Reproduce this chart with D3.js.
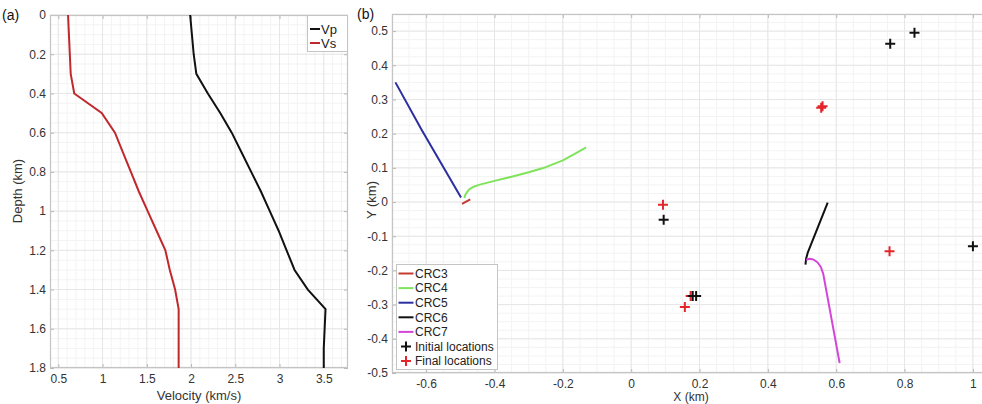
<!DOCTYPE html>
<html>
<head>
<meta charset="utf-8">
<script src="https://cdn.jsdelivr.net/npm/d3@7"></script>
<style>
  html, body { margin: 0; padding: 0; background: #fff; }
  svg { display: block; font-family: "Liberation Sans", Arial, Helvetica, sans-serif; }
  .tick text { fill: #333; font-size: 12px; }
  .tick line { stroke: #b8b8b8; }
</style>
</head>
<body>
<svg id="fig" width="982" height="404"></svg>
<script>
// ---- Panel (a): velocity profiles ----
const depth = [0, 0.1, 0.2, 0.3, 0.4, 0.5, 0.6, 0.7, 0.8, 0.9, 1.0, 1.1, 1.2, 1.3, 1.4, 1.5, 1.6, 1.7, 1.8];
const vp = [1.99, 2.01, 2.03, 2.06, 2.19, 2.33, 2.46, 2.57, 2.68, 2.79, 2.89, 2.99, 3.08, 3.17, 3.32, 3.52, 3.51, 3.50, 3.50];
const vs = [0.61, 0.62, 0.63, 0.64, 0.68, 0.99, 1.14, 1.23, 1.32, 1.41, 1.51, 1.61, 1.71, 1.76, 1.82, 1.86, 1.86, 1.86, 1.86];
const velTicks = [0.5, 1, 1.5, 2, 2.5, 3, 3.5];
const depthTicks = [0, 0.2, 0.4, 0.6, 0.8, 1, 1.2, 1.4, 1.6, 1.8];

// ---- Panel (b): station trajectories and locations ----
const crc3X = [-0.495, -0.471];
const crc3Y = [-0.005, 0.008];
const crc4X = [-0.488, -0.486, -0.481, -0.474, -0.463, -0.443, -0.40, -0.35, -0.30, -0.25, -0.20, -0.16, -0.132];
const crc4Y = [0.012, 0.020, 0.028, 0.037, 0.044, 0.051, 0.062, 0.074, 0.087, 0.102, 0.122, 0.144, 0.160];
const crc5X = [-0.690, -0.613, -0.498];
const crc5Y = [0.350, 0.211, 0.013];
const crc6X = [0.575, 0.517, 0.512, 0.510];
const crc6Y = [-0.002, -0.147, -0.165, -0.183];
const crc7X = [0.512, 0.522, 0.533, 0.545, 0.555, 0.562, 0.610];
const crc7Y = [-0.169, -0.166, -0.168, -0.176, -0.190, -0.210, -0.471];
const initX = [0.758, 0.829, 0.095, 1.000, 0.180, 0.190];
const initY = [0.463, 0.495, -0.052, -0.129, -0.275, -0.275];
const finalX = [0.556, 0.560, 0.093, 0.756, 0.174, 0.157];
const finalY = [0.276, 0.280, -0.008, -0.144, -0.275, -0.307];
const xTicksB = [-0.6, -0.4, -0.2, 0, 0.2, 0.4, 0.6, 0.8, 1];
const yTicksB = [-0.5, -0.4, -0.3, -0.2, -0.1, 0, 0.1, 0.2, 0.3, 0.4, 0.5];

const stations = [
  { name: "CRC3", xs: crc3X, ys: crc3Y, color: "#c63a30" },
  { name: "CRC4", xs: crc4X, ys: crc4Y, color: "#7fe35c" },
  { name: "CRC5", xs: crc5X, ys: crc5Y, color: "#2c2fa0" },
  { name: "CRC6", xs: crc6X, ys: crc6Y, color: "#111111" },
  { name: "CRC7", xs: crc7X, ys: crc7Y, color: "#d444d8" }
];

const svg = d3.select("#fig");
const fmt = d => String(+d.toFixed(2));
const gridMajor = "#e6e6e6", gridMinor = "#f3f3f3", boxColor = "#c4c4c4";

function range(a, b, step) {
  const out = [];
  const n = Math.round((b - a) / step);
  for (let i = 0; i <= n; i++) out.push(+(a + i * step).toFixed(4));
  return out;
}

// Draws box, grids and inward ticks for one set of axes
function frame(g, x, y, xt, yt, xMinor, yMinor, L, T, R, B, clipId) {
  g.append("defs").append("clipPath").attr("id", clipId)
    .append("rect").attr("x", L).attr("y", T).attr("width", R - L).attr("height", B - T);
  const grid = g.append("g");
  grid.selectAll(".vmin").data(xMinor).join("line")
    .attr("x1", d => x(d)).attr("x2", d => x(d)).attr("y1", T).attr("y2", B)
    .attr("stroke", gridMinor).attr("stroke-width", 1);
  grid.selectAll(".hmin").data(yMinor).join("line")
    .attr("y1", d => y(d)).attr("y2", d => y(d)).attr("x1", L).attr("x2", R)
    .attr("stroke", gridMinor).attr("stroke-width", 1);
  grid.selectAll(".vmaj").data(xt).join("line")
    .attr("x1", d => x(d)).attr("x2", d => x(d)).attr("y1", T).attr("y2", B)
    .attr("stroke", gridMajor).attr("stroke-width", 1);
  grid.selectAll(".hmaj").data(yt).join("line")
    .attr("y1", d => y(d)).attr("y2", d => y(d)).attr("x1", L).attr("x2", R)
    .attr("stroke", gridMajor).attr("stroke-width", 1);

  g.append("g").attr("transform", `translate(0,${B})`)
    .call(d3.axisBottom(x).tickValues(xt).tickFormat(fmt).tickSizeInner(-4).tickSizeOuter(0).tickPadding(6))
    .call(a => a.select(".domain").remove());
  g.append("g").attr("transform", `translate(0,${T})`)
    .call(d3.axisTop(x).tickValues(xt).tickFormat("").tickSizeInner(-4).tickSizeOuter(0))
    .call(a => a.select(".domain").remove());
  g.append("g").attr("transform", `translate(${L},0)`)
    .call(d3.axisLeft(y).tickValues(yt).tickFormat(fmt).tickSizeInner(-4).tickSizeOuter(0).tickPadding(4))
    .call(a => a.select(".domain").remove());
  if (R < 982) {
    g.append("g").attr("transform", `translate(${R},0)`)
      .call(d3.axisRight(y).tickValues(yt).tickFormat("").tickSizeInner(-4).tickSizeOuter(0))
      .call(a => a.select(".domain").remove());
  }
  g.append("rect").attr("x", L + 0.5).attr("y", T + 0.5)
    .attr("width", R - L - 1).attr("height", B - T - 1)
    .attr("fill", "none").attr("stroke", boxColor).attr("stroke-width", 1.2);
}

// ================= Panel (a) =================
{
  const L = 50, T = 15, R = 348, B = 368;
  const x = d3.scaleLinear().domain([0.406, 3.774]).range([L, R]);
  const y = d3.scaleLinear().domain([0, 1.8]).range([T, B]);
  const g = svg.append("g");
  frame(g, x, y, velTicks, depthTicks, range(0.5, 3.7, 0.1), range(0, 1.8, 0.05), L, T, R, B, "clipA");

  const line = d3.line().x(d => x(d[0])).y(d => y(d[1]));
  const plot = g.append("g").attr("clip-path", "url(#clipA)");
  plot.append("path").datum(depth.map((d, i) => [vp[i], d]))
    .attr("d", line).attr("fill", "none").attr("stroke", "#111").attr("stroke-width", 2);
  plot.append("path").datum(depth.map((d, i) => [vs[i], d]))
    .attr("d", line).attr("fill", "none").attr("stroke", "#c0282d").attr("stroke-width", 2);

  // legend
  const lg = g.append("g");
  lg.append("rect").attr("x", 307.5).attr("y", 15.5).attr("width", 40).attr("height", 36)
    .attr("fill", "#fff").attr("stroke", boxColor).attr("stroke-width", 1);
  [["Vp", "#111"], ["Vs", "#c0282d"]].forEach(([t, c], i) => {
    const yy = 29 + i * 14;
    lg.append("line").attr("x1", 310).attr("x2", 320).attr("y1", yy).attr("y2", yy)
      .attr("stroke", c).attr("stroke-width", 2);
    lg.append("text").attr("x", 321).attr("y", yy).attr("dy", "0.36em")
      .attr("font-size", 13).attr("fill", "#222").text(t);
  });

  svg.append("text").attr("x", 199).attr("y", 400).attr("text-anchor", "middle")
    .attr("font-size", 13).attr("fill", "#333").text("Velocity (km/s)");
  svg.append("text").attr("transform", "translate(22,191) rotate(-90)").attr("text-anchor", "middle")
    .attr("font-size", 13).attr("fill", "#333").text("Depth (km)");
  svg.append("text").attr("x", 2).attr("y", 20).attr("font-size", 14).attr("fill", "#111").text("(a)");
}

// ================= Panel (b) =================
{
  const L = 392, T = 14, R = 990, B = 373;
  const x = d3.scaleLinear().domain([-0.7, 1.05]).range([L, R]);
  const y = d3.scaleLinear().domain([-0.5, 0.55]).range([B, T]);
  const g = svg.append("g");
  frame(g, x, y, xTicksB, yTicksB, range(-0.7, 1.05, 0.05), range(-0.5, 0.55, 0.025), L, T, R, B, "clipB");

  const plot = g.append("g").attr("clip-path", "url(#clipB)");
  const line = d3.line().x(d => x(d[0])).y(d => y(d[1]));
  stations.forEach(s => {
    const pts = s.xs.map((v, i) => [v, s.ys[i]]);
    plot.append("path").datum(pts).attr("d", line)
      .attr("fill", "none").attr("stroke", s.color).attr("stroke-width", 2)
      .attr("stroke-linejoin", "round").attr("stroke-linecap", "butt");
  });

  const plus = (cx, cy, s) => `M${cx - s},${cy}H${cx + s}M${cx},${cy - s}V${cy + s}`;
  const finals = finalX.map((v, i) => [v, finalY[i]]);
  const inits = initX.map((v, i) => [v, initY[i]]);
  plot.selectAll(".fin").data(finals).join("path")
    .attr("d", d => plus(x(d[0]), y(d[1]), 5))
    .attr("stroke", "#e3262b").attr("stroke-width", 2).attr("fill", "none");
  plot.selectAll(".ini").data(inits).join("path")
    .attr("d", d => plus(x(d[0]), y(d[1]), 5))
    .attr("stroke", "#111").attr("stroke-width", 2).attr("fill", "none");

  // legend
  const lg = g.append("g");
  lg.append("rect").attr("x", 396.5).attr("y", 264.5).attr("width", 101).attr("height", 105)
    .attr("fill", "#fff").attr("stroke", boxColor).attr("stroke-width", 1);
  const entries = stations.map(s => ({ label: s.name, color: s.color, kind: "line" }))
    .concat([{ label: "Initial locations", color: "#111", kind: "plus" },
             { label: "Final locations", color: "#e3262b", kind: "plus" }]);
  entries.forEach((e, i) => {
    const yy = 273.5 + i * 14.6;
    if (e.kind === "line") {
      lg.append("line").attr("x1", 398.5).attr("x2", 413.5).attr("y1", yy).attr("y2", yy)
        .attr("stroke", e.color).attr("stroke-width", 2);
    } else {
      lg.append("path").attr("d", plus(406, yy, 5)).attr("stroke", e.color)
        .attr("stroke-width", 2).attr("fill", "none");
    }
    lg.append("text").attr("x", 415).attr("y", yy).attr("dy", "0.36em")
      .attr("font-size", 12).attr("fill", "#222").text(e.label);
  });

  svg.append("text").attr("x", 691).attr("y", 400.5).attr("text-anchor", "middle")
    .attr("font-size", 12).attr("fill", "#333").text("X (km)");
  svg.append("text").attr("transform", "translate(376,200) rotate(-90)").attr("text-anchor", "middle")
    .attr("font-size", 13).attr("fill", "#333").text("Y (km)");
  svg.append("text").attr("x", 357).attr("y", 19).attr("font-size", 14).attr("fill", "#111").text("(b)");
}
</script>
</body>
</html>
